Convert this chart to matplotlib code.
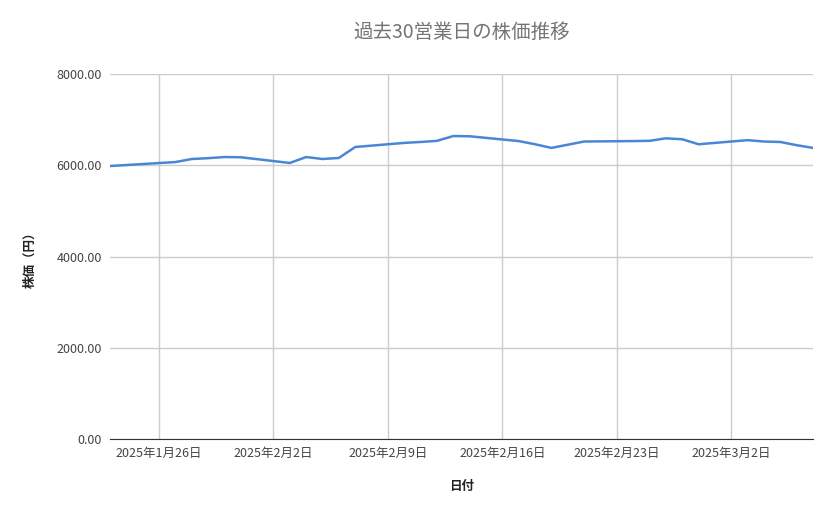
import numpy as np
import pandas as pd
import matplotlib
matplotlib.use("Agg")
import matplotlib.pyplot as plt
import matplotlib.dates as mdates

plt.rcParams['font.family'] = ['Noto Sans CJK JP', 'DejaVu Sans']

dates = ["2025-01-23", "2025-01-24", "2025-01-27", "2025-01-28", "2025-01-29", "2025-01-30",
         "2025-01-31", "2025-02-03", "2025-02-04", "2025-02-05", "2025-02-06", "2025-02-07",
         "2025-02-10", "2025-02-11", "2025-02-12", "2025-02-13", "2025-02-14", "2025-02-17",
         "2025-02-18", "2025-02-19", "2025-02-20", "2025-02-21", "2025-02-24", "2025-02-25",
         "2025-02-26", "2025-02-27", "2025-02-28", "2025-03-03", "2025-03-04", "2025-03-05",
         "2025-03-06", "2025-03-07"]
prices = [5983, 6005, 6070, 6137, 6155, 6180, 6175, 6050, 6180, 6137, 6160, 6400,
          6490, 6510, 6535, 6640, 6635, 6530, 6460, 6380, 6450, 6520, 6530, 6535,
          6590, 6570, 6460, 6550, 6520, 6510, 6440, 6380]
tick_dates = ["2025-01-26", "2025-02-02", "2025-02-09", "2025-02-16", "2025-02-23", "2025-03-02"]

x = pd.to_datetime(dates)
ticks = pd.to_datetime(tick_dates)

fig = plt.figure(figsize=(8.39, 5.19), dpi=100)
ax = fig.add_axes([110/839, 1-439/519, 703/839, 365/519])
ax.plot(x, prices, color='#4a86d8', linewidth=1.8)

ax.set_xlim(x[0], x[-1])
ax.set_ylim(0, 8000)
ax.set_yticks([0, 2000, 4000, 6000, 8000])
ax.set_yticklabels([f"{v:.2f}" for v in [0, 2000, 4000, 6000, 8000]])
ax.set_xticks(ticks)
ax.set_xticklabels([f"{d.year}年{d.month}月{d.day}日" for d in ticks])
ax.grid(True, color='#cccccc', linewidth=1)
ax.set_axisbelow(True)
for s in ['top', 'right', 'left']:
    ax.spines[s].set_visible(False)
ax.spines['bottom'].set_color('#333333')
ax.tick_params(length=0, labelsize=9, colors='#444444', pad=6)

ax.set_title("過去30営業日の株価推移", fontsize=14, color='#757575', pad=26)
ax.set_xlabel("日付", fontsize=9, color='#222222', labelpad=14, fontweight='bold')
ax.set_ylabel("株価（円）", fontsize=9, color='#222222', labelpad=14, fontweight='bold')

fig.savefig("out.png", dpi=100)
